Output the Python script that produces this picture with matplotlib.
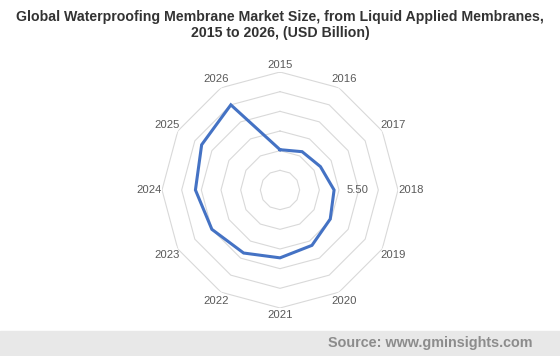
import numpy as np
import matplotlib
matplotlib.use("Agg")
import matplotlib.pyplot as plt

plt.rcParams['font.family'] = ['Liberation Sans', 'DejaVu Sans']

years = ["2015", "2016", "2017", "2018", "2019", "2020", "2021", "2022", "2023", "2024", "2025", "2026"]
values = [4.1, 4.5, 4.75, 5.5, 5.9, 6.5, 6.9, 7.4, 8.0, 8.6, 9.2, 10.0]
ring_levels = [2, 4, 6, 8, 10, 12]
labelled_index = 3
labelled_text = "5.50"

fig = plt.figure(figsize=(5.6, 3.56), dpi=100)
W, H = 560, 356
cx, cy, R = 280, 190, 118
ax = fig.add_axes([(cx - R) / W, (H - cy - R) / H, 2 * R / W, 2 * R / H], projection='polar')
ax.set_theta_zero_location('N')
ax.set_theta_direction(-1)
ax.set_ylim(0, 12)
ax.grid(False)
ax.spines['polar'].set_visible(False)
ax.set_xticks([])
ax.set_yticks([])
ax.patch.set_alpha(0)

n = len(years)
theta = np.arange(n) * 2 * np.pi / n
theta_c = np.append(theta, theta[0])

for lv in ring_levels:
    ax.plot(theta_c, [lv] * (n + 1), color='#d9d9d9', lw=0.8, zorder=1)

vals_c = values + [values[0]]
ax.plot(theta_c, vals_c, color='#4472C4', lw=2.2, zorder=3, solid_joinstyle='miter')

for t, y in zip(theta, years):
    r = 12.7 + 0.65 * abs(np.sin(t))
    ax.text(t, r, y, ha='center', va='center', fontsize=8.1, color='#595959')

ax.text(theta[labelled_index], values[labelled_index] + 2.4, labelled_text,
        ha='center', va='center', fontsize=8.1, color='#595959')

fig.text(0.5, 1 - 20.7 / H, "Global Waterproofing Membrane Market Size, from Liquid Applied Membranes,",
         ha='center', va='baseline', fontsize=10.2, fontweight='bold', color='#333333')
fig.text(0.5, 1 - 36.7 / H, "2015 to 2026, (USD Billion)",
         ha='center', va='baseline', fontsize=10.2, fontweight='bold', color='#333333')

bar = plt.Rectangle((0, 0), 1, 25 / H, transform=fig.transFigure, color='#e8e8e8', zorder=0)
fig.patches.append(bar)
fig.text(533 / W, 1 - 343 / H, "Source: www.gminsights.com", ha='right', va='center',
         fontsize=10.4, fontweight='bold', color='#8c8c8c')

fig.savefig('out.png', dpi=100)
